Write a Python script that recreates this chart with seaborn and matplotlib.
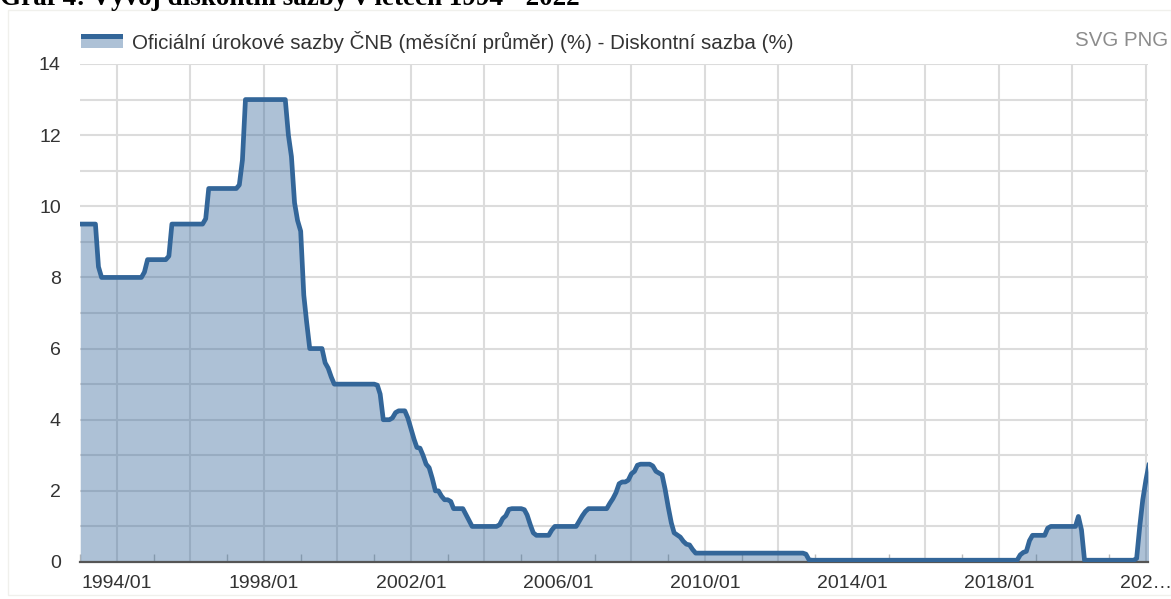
import pandas as pd
import seaborn as sns
import matplotlib.pyplot as plt
import matplotlib.dates as mdates
from matplotlib.patches import Rectangle

# CNB discount rate, monthly averages (%)
rates_1990s = [
    9.5, 9.5, 9.5, 9.5, 9.5, 9.5, 8.3, 8.0, 8.0, 8.0, 8.0, 8.0,           # 1993
    8.0, 8.0, 8.0, 8.0, 8.0, 8.0, 8.0, 8.0, 8.0, 8.15, 8.5, 8.5,          # 1994
    8.5, 8.5, 8.5, 8.5, 8.5, 8.6, 9.5, 9.5, 9.5, 9.5, 9.5, 9.5,           # 1995
    9.5, 9.5, 9.5, 9.5, 9.5, 9.65, 10.5, 10.5, 10.5, 10.5, 10.5, 10.5,    # 1996
    10.5, 10.5, 10.5, 10.5, 10.6, 11.3, 13.0, 13.0, 13.0, 13.0, 13.0, 13.0,  # 1997
    13.0, 13.0, 13.0, 13.0, 13.0, 13.0, 13.0, 13.0, 12.0, 11.4, 10.1, 9.6,   # 1998
    9.3, 7.5, 6.75, 6.0, 6.0, 6.0, 6.0, 6.0, 5.6, 5.45, 5.2, 5.0,         # 1999
]
rates_2000s = [
    5.0, 5.0, 5.0, 5.0, 5.0, 5.0, 5.0, 5.0, 5.0, 5.0, 5.0, 5.0,           # 2000
    5.0, 4.97, 4.72, 4.0, 4.0, 4.0, 4.05, 4.2, 4.25, 4.25, 4.25, 4.05,    # 2001
    3.75, 3.45, 3.22, 3.2, 3.0, 2.75, 2.65, 2.35, 2.0, 2.0, 1.85, 1.75,   # 2002
    1.75, 1.7, 1.5, 1.5, 1.5, 1.5, 1.34, 1.17, 1.0, 1.0, 1.0, 1.0,        # 2003
    1.0, 1.0, 1.0, 1.0, 1.0, 1.05, 1.22, 1.3, 1.48, 1.5, 1.5, 1.5,        # 2004
    1.5, 1.47, 1.32, 1.05, 0.82, 0.75, 0.75, 0.75, 0.75, 0.75, 0.9, 1.0,  # 2005
    1.0, 1.0, 1.0, 1.0, 1.0, 1.0, 1.0, 1.15, 1.3, 1.42, 1.5, 1.5,         # 2006
    1.5, 1.5, 1.5, 1.5, 1.5, 1.65, 1.78, 1.95, 2.2, 2.25, 2.25, 2.3,      # 2007
    2.48, 2.55, 2.72, 2.75, 2.75, 2.75, 2.75, 2.7, 2.55, 2.5, 2.45, 2.05,  # 2008
    1.55, 1.1, 0.82, 0.76, 0.7, 0.58, 0.5, 0.48, 0.35, 0.25, 0.25, 0.25,  # 2009
]
rates_2010s = [
    0.25, 0.25, 0.25, 0.25, 0.25, 0.25, 0.25, 0.25, 0.25, 0.25, 0.25, 0.25,  # 2010
    0.25, 0.25, 0.25, 0.25, 0.25, 0.25, 0.25, 0.25, 0.25, 0.25, 0.25, 0.25,  # 2011
    0.25, 0.25, 0.25, 0.25, 0.25, 0.25, 0.25, 0.25, 0.25, 0.22, 0.06, 0.05,  # 2012
    0.05, 0.05, 0.05, 0.05, 0.05, 0.05, 0.05, 0.05, 0.05, 0.05, 0.05, 0.05,  # 2013
    0.05, 0.05, 0.05, 0.05, 0.05, 0.05, 0.05, 0.05, 0.05, 0.05, 0.05, 0.05,  # 2014
    0.05, 0.05, 0.05, 0.05, 0.05, 0.05, 0.05, 0.05, 0.05, 0.05, 0.05, 0.05,  # 2015
    0.05, 0.05, 0.05, 0.05, 0.05, 0.05, 0.05, 0.05, 0.05, 0.05, 0.05, 0.05,  # 2016
    0.05, 0.05, 0.05, 0.05, 0.05, 0.05, 0.05, 0.05, 0.05, 0.05, 0.05, 0.05,  # 2017
    0.05, 0.05, 0.05, 0.05, 0.05, 0.05, 0.05, 0.2, 0.27, 0.3, 0.6, 0.75,     # 2018
    0.75, 0.75, 0.75, 0.75, 0.95, 1.0, 1.0, 1.0, 1.0, 1.0, 1.0, 1.0,         # 2019
]
rates_2020s = [
    1.0, 1.0, 1.28, 0.9, 0.05, 0.05, 0.05, 0.05, 0.05, 0.05, 0.05, 0.05,     # 2020
    0.05, 0.05, 0.05, 0.05, 0.05, 0.05, 0.05, 0.05, 0.05, 0.1, 1.0, 1.75,    # 2021
    2.3, 2.75,                                                               # 2022
]
year_labels = ["1994/01", "1998/01", "2002/01", "2006/01", "2010/01", "2014/01", "2018/01", "202…"]

rate = rates_1990s + rates_2000s + rates_2010s + rates_2020s
df = pd.DataFrame({
    "month": pd.date_range("1993-01-01", periods=len(rate), freq="MS"),
    "rate": rate,
})

line_color = "#336699"
W, H = 1171, 599

sns.set_theme(style="white")
plt.rcParams["font.family"] = ["Liberation Sans", "DejaVu Sans"]

fig = plt.figure(figsize=(W / 100, H / 100), dpi=100)
ax = fig.add_axes([80.25 / W, 37 / H, (1148 - 80.25) / W, 498 / H])

ax.fill_between(df["month"], df["rate"], color=line_color, alpha=0.4, lw=0, zorder=2)
sns.lineplot(data=df, x="month", y="rate", color=line_color, lw=3.4, ax=ax, zorder=3)

ax.set_xlim(pd.Timestamp("1993-01-01"), pd.Timestamp("2022-01-22"))
ax.set_ylim(0, 14)

# grid: every 2 years vertically, every unit horizontally
grid_years = [pd.Timestamp(f"{y}-01-01") for y in range(1994, 2023, 2)]
ax.set_xticks(grid_years)
ax.set_xticklabels([year_labels[i // 2] if i % 2 == 0 else "" for i in range(len(grid_years))])
ax.xaxis.set_minor_locator(mdates.YearLocator(1))
ax.set_yticks(range(0, 15, 2))
ax.set_yticks(range(1, 14, 2), minor=True)
ax.grid(which="both", color="#dcdcdc", lw=1.5, zorder=0)
ax.set_axisbelow(True)

ax.tick_params(axis="x", which="major", length=0, pad=9, labelsize=14, labelcolor="#333333")
ax.tick_params(axis="x", which="minor", direction="in", length=6, width=1, color="#bbbbbb", bottom=True)
ax.tick_params(axis="y", which="both", length=0, pad=14, labelsize=14, labelcolor="#333333")
ax.xaxis.grid(False, which="minor")

for side in ["top", "right", "left"]:
    ax.spines[side].set_visible(False)
ax.spines["bottom"].set_color("#555555")
ax.spines["bottom"].set_linewidth(1.6)
ax.set_xlabel("")
ax.set_ylabel("")


def fx(x):
    return x / W


def fy(y):
    return 1 - y / H


# faint container frame
fig.patches.append(Rectangle((fx(8), fy(595)), fx(1171) - fx(8), fy(10) - fy(595),
                             transform=fig.transFigure, fill=False, ec="#f0f0ec", lw=1))

# legend sample (area series) and label
fig.patches.append(Rectangle((fx(81), fy(48)), fx(42), fy(39) - fy(48),
                             transform=fig.transFigure, color=line_color, alpha=0.4, lw=0))
fig.patches.append(Rectangle((fx(81), fy(39)), fx(42), fy(34) - fy(39),
                             transform=fig.transFigure, color=line_color, lw=0))
fig.text(fx(132), fy(42), "Oficiální úrokové sazby ČNB (měsíční průměr) (%) - Diskontní sazba (%)",
         fontsize=14.8, color="#333333", va="center", ha="left")
fig.text(fx(1168), fy(40), "SVG PNG", fontsize=14.8, color="#8c8c8c", va="center", ha="right")

# document caption cut off at the top edge
fig.text(0.0, fy(5), "Graf 4: Vývoj diskontní sazby v letech 1994 - 2022",
         family=["Liberation Serif", "DejaVu Serif"], weight="bold", fontsize=19.5,
         color="black", va="baseline", ha="left")

fig.savefig("out.png", dpi=100)
